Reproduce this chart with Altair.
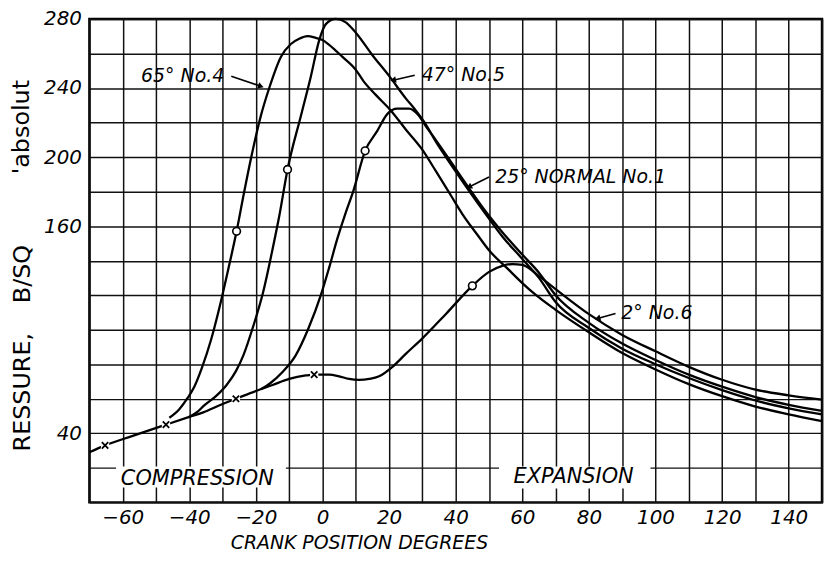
import altair as alt
import pandas as pd

# ---- curve data (crank degrees, pressure lb/sq in abs) ----
x_no6 = [-70, -65.3, -57, -47, -40, -36, -30, -26, -20, -15, -10, -5, -2.5, 2, 5, 8, 11, 14, 17, 21, 25, 30, 37, 45, 50, 54, 57, 60, 65, 70, 80, 90, 100, 110, 120, 130, 140, 150]
y_no6 = [29, 33, 38.5, 45, 49.5, 52, 57, 60, 64.5, 68, 71.5, 73.5, 74, 74, 73, 71.5, 71, 71.5, 73, 78.5, 86, 95, 109, 125.4, 133.5, 137, 138, 137.5, 131, 123.5, 109, 97, 87.5, 78.5, 71, 65.3, 62, 59.5]

x_no4 = [-46, -43, -40.5, -38.5, -36.3, -33.4, -30.8, -28.3, -25.8, -23.6, -21.5, -18.5, -16, -12.5, -9.5, -7, -4.5, -2, 0, 2, 6, 10, 12.3, 16, 20.5, 25, 29.7, 34, 38.8, 42, 46.5, 50, 55.5, 60, 63.5, 70, 80, 90, 100, 110, 120, 130, 140, 150]
y_no4 = [49, 54, 60.5, 67, 77.5, 94.6, 114, 135, 157, 179, 199, 224, 240, 258, 265.5, 268.5, 270, 269, 267.8, 265, 258, 250.5, 244, 236, 227, 216, 205, 192, 177, 167, 155, 146, 135.5, 127, 121, 111.5, 98.5, 86.5, 77, 68.5, 61.5, 55.5, 51, 47]

x_no5 = [-40, -37.5, -35.6, -32, -28.8, -26, -23.8, -20.8, -17.8, -15, -13, -10.5, -6.5, -3.5, -1, 1, 4, 7, 10, 15, 20, 25, 28, 31, 34, 39, 44, 49, 54, 60, 65, 70, 80, 90, 100, 110, 120, 130, 140, 150]
y_no5 = [49.5, 52.5, 56, 61.5, 68, 76, 85, 102, 122, 146.6, 165.7, 192.8, 223.8, 246.7, 267.6, 277, 280, 278, 272, 259, 247, 234, 227, 219, 209, 194.5, 180.5, 167, 154, 141, 130, 116, 101, 89, 80, 72, 65, 59, 54.5, 51]

x_no1 = [-18.5, -15.7, -12, -8.1, -4.3, -0.5, 2, 4.5, 7, 9.2, 12.8, 16.4, 19.5, 22.4, 26, 28.7, 31, 34, 39, 44, 49, 54, 60, 65, 70, 80, 90, 100, 110, 120, 130, 140, 150]
y_no1 = [65.5, 69, 75.5, 85, 100.4, 120, 136, 153, 168, 180, 203.6, 215, 225, 228, 228, 224.5, 218, 210, 196, 182, 168.5, 156.5, 143.5, 133, 120, 104, 92, 82.5, 74, 67, 61, 56.5, 53]

# open-circle markers and x markers
circ_x = [-25.8, -10.5, 12.8, 45]
circ_y = [157, 192.8, 203.6, 125.4]
cross_x = [-65.3, -47, -26, -2.5]
cross_y = [33, 45, 60, 74]

# curve labels and arrows
lab_text = ["65° No.4", "47° No.5", "25° NORMAL No.1", "2° No.6"]
lab_x = [-42, 42.3, 77.5, 100.4]
lab_y = [246.8, 247.4, 188.4, 109.4]
arr_x1 = [-27.4, 27.7, 50, 88]
arr_y1 = [246.8, 247.4, 188.4, 109.4]
arr_x2 = [-18.5, 21.2, 44, 82.6]
arr_y2 = [241, 244.5, 182.7, 106.5]
arr_shape = ["triangle-right", "triangle-left", "triangle-left", "triangle-left"]
arr_angle = [18, 347, 333, 345]

# region labels
reg_text = ["COMPRESSION", "EXPANSION"]
reg_x = [-37.6, 75.4]
reg_y = [13.5, 14.5]
box_x1 = [-62, 53]
box_x2 = [-11, 98.5]
box_y1 = [8.6, 8.0]
box_y2 = [20.8, 20.8]

x_ticks = list(range(-70, 151, 10))
y_ticks = list(range(0, 281, 20))

FONT = "DejaVu Sans"

rows = []
for name, xs_, ys_ in [("No.6", x_no6, y_no6), ("No.4", x_no4, y_no4),
                       ("No.5", x_no5, y_no5), ("No.1", x_no1, y_no1)]:
    for a, b in zip(xs_, ys_):
        rows.append({"series": name, "deg": a, "psi": b})
curves = pd.DataFrame(rows)

circles = pd.DataFrame({"deg": circ_x, "psi": circ_y})
crosses = pd.DataFrame({"deg": cross_x, "psi": cross_y})
labels = pd.DataFrame({"txt": lab_text, "deg": lab_x, "psi": lab_y})
arrows = pd.DataFrame({"deg": arr_x1, "psi": arr_y1, "deg2": arr_x2, "psi2": arr_y2,
                       "shape": arr_shape, "ang": arr_angle})
regions = pd.DataFrame({"txt": reg_text, "deg": reg_x, "psi": reg_y})
boxes = pd.DataFrame({"deg": box_x1, "deg2": box_x2, "psi": box_y1, "psi2": box_y2})

xscale = alt.Scale(domain=[-70, 150], nice=False, zero=False)
yscale = alt.Scale(domain=[0, 280], nice=False, zero=False)

x_axis = alt.Axis(values=x_ticks, labelExpr="datum.value % 20 == 0 ? datum.label : ''",
                  grid=True, gridColor="#111111", gridWidth=1.5, gridOpacity=1,
                  ticks=False, domain=False, labelFont=FONT, labelFontStyle="italic",
                  labelFontSize=20, labelColor="black", labelPadding=5, title=None,
                  labelOverlap=False, labelFlush=False)
y_axis = alt.Axis(values=y_ticks,
                  labelExpr="(datum.value == 40 || (datum.value >= 160 && datum.value % 40 == 0)) ? datum.label : ''",
                  grid=True, gridColor="#111111", gridWidth=1.5, gridOpacity=1,
                  ticks=False, domain=False, labelFont=FONT, labelFontStyle="italic",
                  labelFontSize=20, labelColor="black", labelPadding=8, title=None,
                  labelOverlap=False, labelFlush=False)


def X(f="deg"):
    return alt.X(f"{f}:Q", scale=xscale, axis=x_axis)


def Y(f="psi"):
    return alt.Y(f"{f}:Q", scale=yscale, axis=y_axis)


lines = alt.Chart(curves).mark_line(color="black", strokeWidth=2.3, interpolate="monotone").encode(
    x=X(), y=Y(), detail="series:N")

box_layer = alt.Chart(boxes).mark_rect(fill="white").encode(
    x=X(), x2="deg2:Q", y=Y(), y2="psi2:Q")

reg_layer = alt.Chart(regions).mark_text(font=FONT, fontStyle="italic", fontSize=21,
                                         color="black").encode(x=X(), y=Y(), text="txt:N")

cross_bg = alt.Chart(crosses).mark_point(shape="square", filled=True, color="white", size=70,
                                         opacity=1).encode(x=X(), y=Y())
cross_layer = alt.Chart(crosses).mark_point(shape="M-1,-1L1,1M-1,1L1,-1", color="black",
                                            strokeWidth=1.8, size=42, opacity=1).encode(x=X(), y=Y())
circ_layer = alt.Chart(circles).mark_point(shape="circle", filled=True, fill="white",
                                           stroke="black", strokeWidth=1.6, size=60,
                                           opacity=1).encode(x=X(), y=Y())

lab_layer = alt.Chart(labels).mark_text(font=FONT, fontStyle="italic", fontSize=19,
                                        color="black").encode(x=X(), y=Y(), text="txt:N")
arr_line = alt.Chart(arrows).mark_rule(color="black", strokeWidth=1.6).encode(
    x=X(), y=Y(), x2="deg2:Q", y2="psi2:Q")
arr_head = alt.Chart(arrows).mark_point(filled=True, color="black", size=45, opacity=1).encode(
    x=X("deg2"), y=Y("psi2"), shape=alt.Shape("shape:N", scale=None),
    angle=alt.Angle("ang:Q", scale=None))

# axis titles (partly cut off in the scan)
x_title = pd.DataFrame({"txt": ["CRANK POSITION DEGREES"]})
y_titles = pd.DataFrame({
    "txt": ["RESSURE,", "B/SQ", "'absolut"],
    "px": [-67, -67, -68],
    "py": [376, 257, 109],
})
title_x = alt.Chart(x_title).mark_text(font=FONT, fontStyle="italic", fontSize=19,
                                       color="black").encode(
    x=alt.value(272), y=alt.value(528), text="txt:N")
title_y = alt.Chart(y_titles).mark_text(font=FONT, fontSize=24, angle=270,
                                        color="black").encode(
    x=alt.X("px:Q", scale=None), y=alt.Y("py:Q", scale=None), text="txt:N")

chart = alt.layer(
    box_layer, lines, cross_bg, cross_layer, circ_layer, reg_layer, lab_layer,
    arr_line, arr_head, title_x, title_y
).properties(
    width=738, height=487,
    padding={"left": 82, "top": 9, "right": 2, "bottom": 50},
    autosize=alt.AutoSizeParams(type="none"),
    background="white",
).configure_view(stroke="black", strokeWidth=2.5)

chart.save("out.html", embed_options={"renderer": "svg", "actions": False})
